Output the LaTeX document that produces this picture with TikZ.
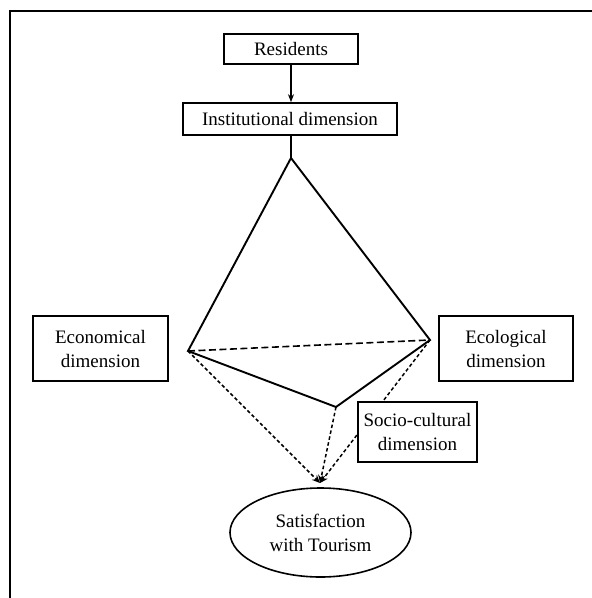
\documentclass[tikz,border=0pt]{standalone}
\usepackage{fontspec}
\setmainfont{Liberation Serif}
\usetikzlibrary{arrows.meta,shapes.geometric}
\begin{document}
\begin{tikzpicture}[x=1pt,y=-1pt,
  box/.style={draw,line width=1.6pt,fill=white,align=center,inner sep=0pt,font=\fontsize{19}{24}\selectfont},
  solidedge/.style={line width=1.9pt},
  dashededge/.style={line width=1.6pt,dash pattern=on 7pt off 3.5pt},
  dottededge/.style={line width=1.5pt,dash pattern=on 3.5pt off 2.5pt,-{Stealth[length=8pt,width=7pt]}},
  arrowedge/.style={line width=1.3pt,-{Stealth[length=8pt,width=6pt]}}]
\useasboundingbox (0,0) rectangle (592,598);
\draw[line width=2.4pt] (10,598) -- (10,11) -- (592,11);
% geometry points
\coordinate (apex) at (291,158);
\coordinate (L) at (188,351);
\coordinate (R) at (430,340);
\coordinate (B) at (336,407);
\coordinate (tip) at (320,483);
% top boxes
\node[box,minimum width=134pt,minimum height=30pt] (res) at (291,49) {Residents};
\node[box,minimum width=214pt,minimum height=32pt] (inst) at (290,119) {Institutional dimension};
\draw[arrowedge] (res.south) -- (res.south |- inst.north);
\draw[solidedge] (inst.south -| apex) -- (apex);
% pyramid
\draw[solidedge,line join=miter] (L) -- (apex) -- (R) -- (B) -- cycle;
\draw[dashededge] (L) -- (R);
% dotted arrows
\draw[dottededge] (L) -- (tip);
\draw[dottededge] (B) -- (tip);
\draw[dottededge] (R) -- (tip);
% side boxes
\node[box,minimum width=135pt,minimum height=65pt] (econ) at (100.5,348.5) {Economical\\dimension};
\node[box,minimum width=134pt,minimum height=65pt] (eco) at (506,348.5) {Ecological\\dimension};
\node[box,minimum width=119pt,minimum height=60pt] (socio) at (417.5,432) {Socio-cultural\\dimension};
\node[box,ellipse,minimum width=181pt,minimum height=89pt] (sat) at (320.5,532.5) {Satisfaction\\with Tourism};
\end{tikzpicture}
\end{document}
